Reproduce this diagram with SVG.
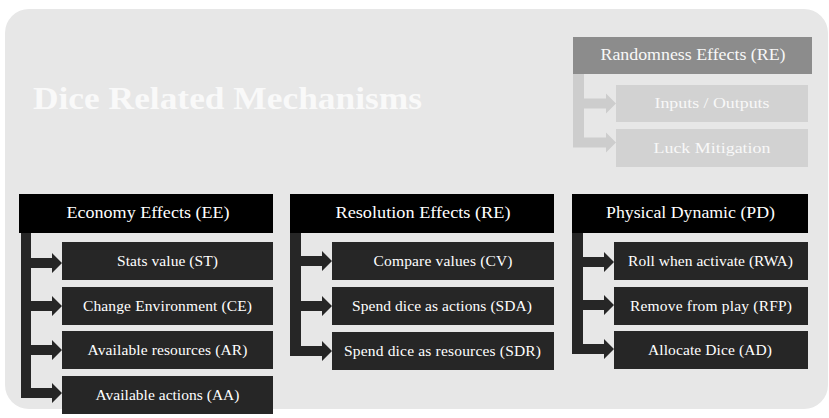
<svg xmlns="http://www.w3.org/2000/svg" width="829" height="418" viewBox="0 0 829 418">
<style>
  text { font-family: 'Liberation Serif', 'Times New Roman', Times, serif; text-anchor: middle; }
  .hdr { fill: #000000; }
  .hdrt { fill: #ffffff; font-size: 16.5px; }
  .box { fill: #262626; }
  .boxt { fill: #ffffff; font-size: 15.5px; }
  .con { fill: #262626; }
  .rhdr { fill: #8c8c8c; }
  .rbox { fill: #d2d2d2; }
  .rcon { fill: #cdcdcd; }
  .rt { fill: #f8f8f8; }
</style>
<rect x="5" y="9" width="823" height="400" rx="24" ry="24" fill="#e7e7e7"/>
<text id="title" x="33" y="109" style="text-anchor:start;font-size:32px;font-weight:bold;fill:#f9f9f9" textLength="389" lengthAdjust="spacingAndGlyphs">Dice Related Mechanisms</text>

<g id="connectors">
  <!-- Randomness -->
  <rect class="rcon" x="573" y="74" width="11" height="73.5"/>
  <polygon class="rcon" points="584,98.5 606,98.5 606,93.5 616,103.5 606,113.5 606,108.5 584,108.5"/>
  <polygon class="rcon" points="584,137.5 606,137.5 606,132.5 616,142.5 606,152.5 606,147.5 584,147.5"/>
  <!-- Economy -->
  <rect class="con" x="21" y="233" width="10" height="165"/>
  <polygon class="con" points="31,258 52,258 52,253 62,263 52,273 52,268 31,268"/>
  <polygon class="con" points="31,301 52,301 52,296 62,306 52,316 52,311 31,311"/>
  <polygon class="con" points="31,345 52,345 52,340 62,350 52,360 52,355 31,355"/>
  <polygon class="con" points="31,388 52,388 52,383 62,393 52,403 52,398 31,398"/>
  <!-- Resolution -->
  <rect class="con" x="290" y="233" width="11" height="123"/>
  <polygon class="con" points="301,256 322,256 322,251 332,261 322,271 322,266 301,266"/>
  <polygon class="con" points="301,301 322,301 322,296 332,306 322,316 322,311 301,311"/>
  <polygon class="con" points="301,346 322,346 322,341 332,351 322,361 322,356 301,356"/>
  <!-- Physical -->
  <rect class="con" x="572" y="233" width="11" height="121"/>
  <polygon class="con" points="583,257 604,257 604,252 614,262 604,272 604,267 583,267"/>
  <polygon class="con" points="583,300 604,300 604,295 614,305 604,315 604,310 583,310"/>
  <polygon class="con" points="583,344 604,344 604,339 614,349 604,359 604,354 583,354"/>
</g>

<g id="re-header"><rect class="rhdr" x="573" y="37" width="239" height="37"/><text class="rt" x="693" y="60" style="font-size:16px" textLength="185" lengthAdjust="spacingAndGlyphs">Randomness Effects (RE)</text></g>
<g id="io"><rect class="rbox" x="616" y="85" width="192" height="37"/><text class="rt" x="712" y="108" style="font-size:15.5px" textLength="115" lengthAdjust="spacingAndGlyphs">Inputs / Outputs</text></g>
<g id="lm"><rect class="rbox" x="616" y="129" width="192" height="38"/><text class="rt" x="712" y="153" style="font-size:15.5px" textLength="117" lengthAdjust="spacingAndGlyphs">Luck Mitigation</text></g>

<g id="ee"><rect class="hdr" x="19" y="194" width="254" height="39"/><text class="hdrt" x="148" y="218" textLength="163" lengthAdjust="spacingAndGlyphs">Economy Effects (EE)</text></g>
<g id="st"><rect class="box" x="62" y="242" width="211" height="38"/><text class="boxt" x="167.5" y="266" textLength="101" lengthAdjust="spacing">Stats value (ST)</text></g>
<g id="ce"><rect class="box" x="62" y="287" width="211" height="38"/><text class="boxt" x="167.5" y="311" textLength="169" lengthAdjust="spacing">Change Environment (CE)</text></g>
<g id="ar"><rect class="box" x="62" y="331" width="211" height="38"/><text class="boxt" x="167.5" y="355" textLength="160" lengthAdjust="spacing">Available resources (AR)</text></g>
<g id="aa"><rect class="box" x="62" y="376" width="211" height="38"/><text class="boxt" x="167.5" y="400" textLength="144" lengthAdjust="spacing">Available actions (AA)</text></g>

<g id="res"><rect class="hdr" x="290" y="194" width="264" height="39"/><text class="hdrt" x="423" y="218" textLength="175" lengthAdjust="spacingAndGlyphs">Resolution Effects (RE)</text></g>
<g id="cv"><rect class="box" x="332" y="242" width="222" height="38"/><text class="boxt" x="443" y="266" textLength="139" lengthAdjust="spacing">Compare values (CV)</text></g>
<g id="sda"><rect class="box" x="332" y="287" width="222" height="38"/><text class="boxt" x="442" y="311" textLength="180" lengthAdjust="spacing">Spend dice as actions (SDA)</text></g>
<g id="sdr"><rect class="box" x="332" y="332" width="222" height="38"/><text class="boxt" x="442.5" y="356" textLength="197" lengthAdjust="spacing">Spend dice as resources (SDR)</text></g>

<g id="pd"><rect class="hdr" x="572" y="194" width="236" height="39"/><text class="hdrt" x="690.5" y="218" textLength="169" lengthAdjust="spacingAndGlyphs">Physical Dynamic (PD)</text></g>
<g id="rwa"><rect class="box" x="614" y="242" width="194" height="38"/><text class="boxt" x="710.5" y="266" textLength="165" lengthAdjust="spacing">Roll when activate (RWA)</text></g>
<g id="rfp"><rect class="box" x="614" y="287" width="194" height="38"/><text class="boxt" x="711" y="311" textLength="162" lengthAdjust="spacing">Remove from play (RFP)</text></g>
<g id="ad"><rect class="box" x="614" y="331" width="194" height="38"/><text class="boxt" x="710" y="355" textLength="124" lengthAdjust="spacing">Allocate Dice (AD)</text></g>
</svg>
